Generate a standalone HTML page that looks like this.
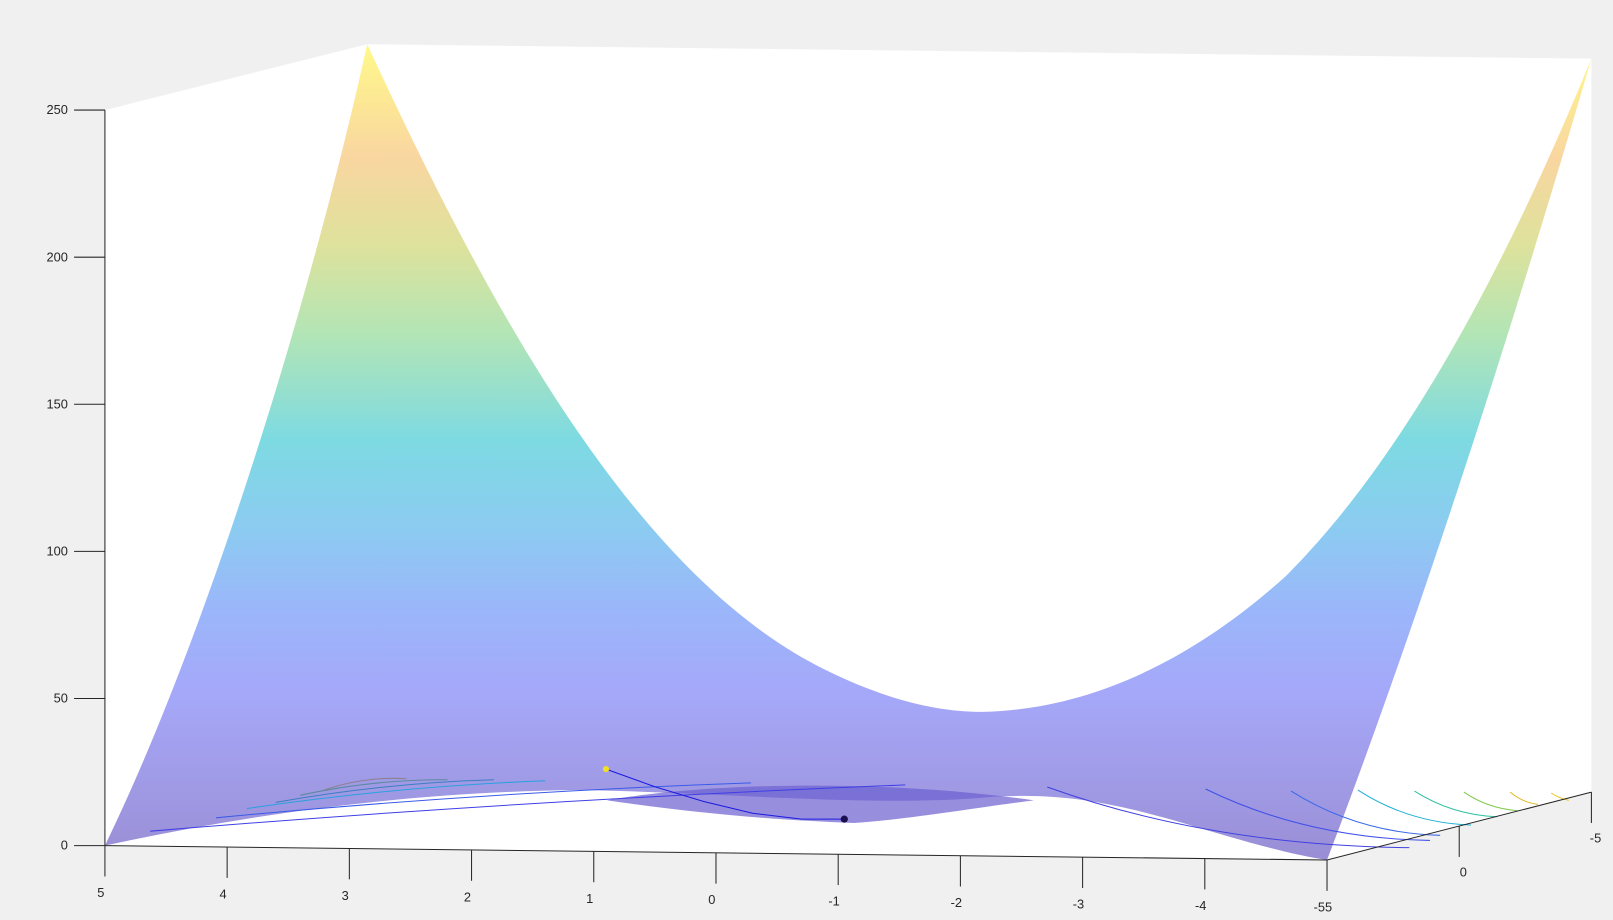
<!DOCTYPE html>
<html><head><meta charset="utf-8"><style>
html,body{margin:0;padding:0;background:#f0f0f0;}
svg{display:block;font-family:"Liberation Sans",sans-serif;}
</style></head><body>
<svg id="chart" width="1613" height="920" viewBox="0 0 1613 920" xmlns="http://www.w3.org/2000/svg">
<defs>
<linearGradient id="g" gradientUnits="userSpaceOnUse" x1="0" y1="43" x2="0" y2="830">
<stop offset="0" stop-color="#fff98a"/>
<stop offset="0.14" stop-color="#f9d6a0"/>
<stop offset="0.25" stop-color="#dde29c"/>
<stop offset="0.36" stop-color="#b2e5b6"/>
<stop offset="0.49" stop-color="#7ddae2"/>
<stop offset="0.6" stop-color="#8ccbf1"/>
<stop offset="0.7" stop-color="#9bb6fa"/>
<stop offset="0.8" stop-color="#a5a8f9"/>
<stop offset="0.9" stop-color="#a19ce8"/>
<stop offset="1" stop-color="#9a8fd6"/>
</linearGradient>
</defs>
<g id="root" transform="scale(1.0287)">
<polygon points="102,107 357,43 1547,57 1547,770 1290,836 102,822" fill="#ffffff"/>
<path fill="url(#g)" d="M102,822 C200,620 300,300 357,43 C480,310 620,560 800,650 C870,685 920,692 955,692 C1050,690 1150,650 1250,560 C1380,430 1480,220 1547,57 C1470,320 1380,600 1290,836 C1250,830 1200,815 1150,800 C1080,780 1030,770 960,775 C850,785 700,770 560,768 C400,770 250,790 102,822 Z"/>
<path fill="#6b5fd0" opacity="0.7" d="M590,778 C680,762 850,756 1005,778 C950,785 880,797 830,800 C740,797 660,788 590,778 Z"/>
<g id="contours" fill="none" stroke-width="1"></g>
<g id="axes" stroke="#262626" stroke-width="1" fill="none">
<line x1="102" y1="107" x2="102" y2="822"/>
<line x1="102" y1="822" x2="1290" y2="836"/>
<line x1="1290" y1="836" x2="1547" y2="770"/>
</g>
<g id="ticks" stroke="#262626" stroke-width="1"></g>
<g id="labels" font-size="12.5" fill="#262626"></g>
</g>
</svg>
<script>
const zTicks=[0,50,100,150,200,250];
const xTicks=[5,4,3,2,1,0,-1,-2,-3,-4,-5];
const yTicks=[5,0,-5];
const pathX=[0.9,0.5,0.1,-0.3,-0.7,-1.05];
const pathZ=[26,20,15,11,9,9];
const NS='http://www.w3.org/2000/svg';
const root=document.getElementById('root');
function zY(z){return 822-z*(715/250);}
function xX(x){return 102+(5-x)*(1188/10);}
function xYb(x){return 822+(5-x)*1.4;}
function yPos(y){return [1290+(5-y)*25.7, 836-(5-y)*6.6];}
function mk(tag,attrs,parent){const e=document.createElementNS(NS,tag);for(const k in attrs)e.setAttribute(k,attrs[k]);parent.appendChild(e);return e;}
const T=document.getElementById('ticks'),L=document.getElementById('labels');
zTicks.forEach(z=>{
 const y=zY(z);
 const t=mk('line',{x1:72,y1:y,x2:102,y2:y},T);
 
 
 const l=mk('text',{x:66,y:y+4,'text-anchor':'end'},L);l.textContent=z;
 
 
});
xTicks.forEach(x=>{
 const px=xX(x),py=xYb(x);
 const t=mk('line',{x1:px,y1:py,x2:px,y2:py+30},T);
 
 
 const l=mk('text',{x:px-4,y:py+50,'text-anchor':'middle'},L);l.textContent=(x===-5?'-55':x);
 
 
});
yTicks.forEach(y=>{
 if(y===5)return;
 const [px,py]=yPos(y);
 const t=mk('line',{x1:px,y1:py,x2:px,y2:py+30},T);
 
 
 const l=mk('text',{x:px+4,y:py+49,'text-anchor':'middle'},L);l.textContent=y;
 
 
});
const C=document.getElementById('contours');
const leftC=[[146,808,880,763,'#3f3fe6'],[210,795,730,761,'#3a5be8'],[240,786,530,759,'#2aa0e0'],[268,780,480,758,'#3a7fc0'],[292,773,435,758,'#5a8aa0'],[315,768,395,757,'#8a8090']];
leftC.forEach(c=>{const p=mk('path',{d:`M${c[0]},${c[1]} Q${(c[0]+c[2])/2},${(c[1]+c[3])/2-8} ${c[2]},${c[3]}`,stroke:c[4]},C);
 
 });
const rightC=[[1018,765,1370,822,'#4040e0'],[1172,767,1390,815,'#4050e8'],[1255,769,1400,810,'#3a6ae8'],[1320,768,1430,800,'#20b0d8'],[1375,769,1455,792,'#30c0a0'],[1423,770,1475,786,'#80c850'],[1468,770,1495,780,'#e0b820'],[1508,771,1525,776,'#f0c020']];
rightC.forEach(c=>{const p=mk('path',{d:`M${c[0]},${c[1]} Q${c[0]+(c[2]-c[0])*0.45},${c[3]} ${c[2]},${c[3]+2}`,stroke:c[4]},C);
 
 });
const pts=pathX.map((x,i)=>[xX(x),zY(pathZ[i])]);
const path=mk('polyline',{points:pts.map(p=>p.join(',')).join(' '),stroke:'#1a1ae0',fill:'none','stroke-width':1},root);


const s=mk('circle',{cx:pts[0][0],cy:pts[0][1],r:3,fill:'#f0e020'},root);


const e=mk('circle',{cx:pts[pts.length-1][0],cy:pts[pts.length-1][1],r:3.5,fill:'#1a1050'},root);


</script>
</body></html>
